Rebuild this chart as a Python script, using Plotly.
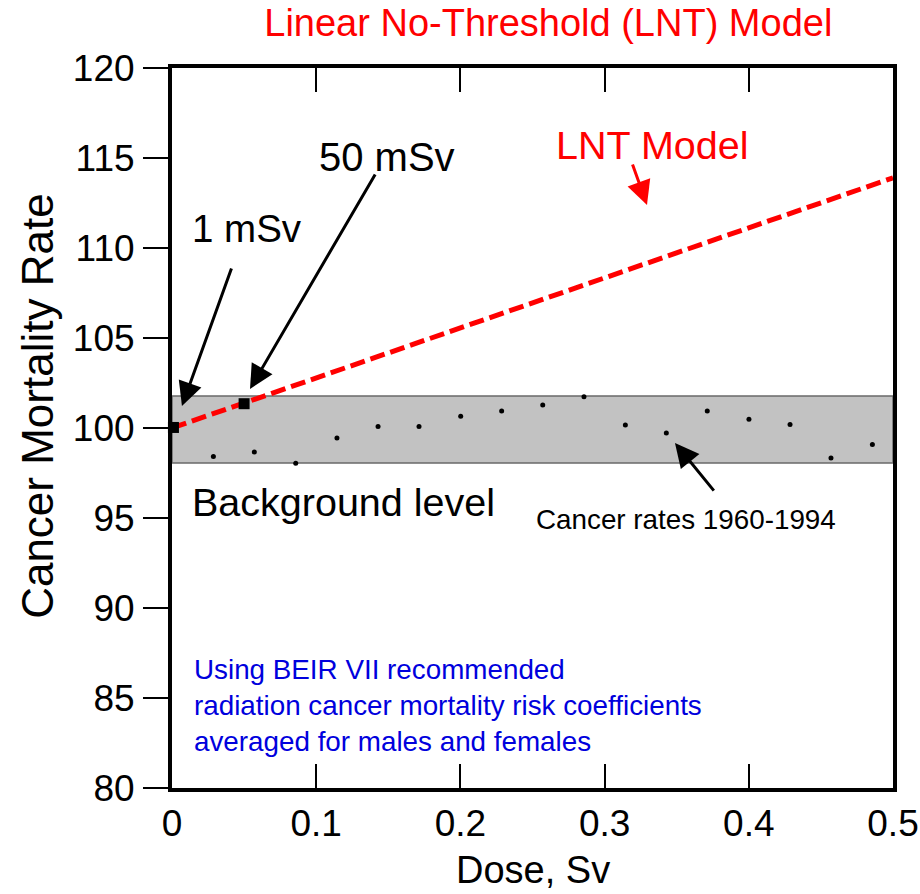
import plotly.graph_objects as go

# LNT model line (dose in Sv, relative cancer mortality rate)
lnt_dose = [0.0, 0.5]
lnt_rate = [100.0, 113.9]

# Highlighted doses on the LNT line
marked_dose = [0.001, 0.05]
marked_rate = [100.03, 101.35]

# Observed cancer rates 1960-1994, spread across the dose axis
obs_dose = [0.0287, 0.0571, 0.0858, 0.1144, 0.1429, 0.1713, 0.2002, 0.2286, 0.2571,
            0.2857, 0.3144, 0.3428, 0.3712, 0.4001, 0.4286, 0.4570, 0.4857]
obs_rate = [98.41, 98.67, 98.04, 99.44, 100.09, 100.09, 100.65, 100.94, 101.28,
            101.74, 100.17, 99.72, 100.94, 100.48, 100.20, 98.33, 99.09]

# Background variation band
band_low, band_high = 98.06, 101.78

x_ticks = [0, 0.1, 0.2, 0.3, 0.4, 0.5]
x_tick_text = ["0", "0.1", "0.2", "0.3", "0.4", "0.5"]
y_ticks = [80, 85, 90, 95, 100, 105, 110, 115, 120]

FONT = "Liberation Sans, Arial, sans-serif"
RED = "#ff0000"
BLUE = "#0000dd"

fig = go.Figure()

fig.add_shape(type="rect", xref="x", yref="y", x0=0, x1=0.5, y0=band_low, y1=band_high,
              fillcolor="#c2c2c2", line=dict(color="#6a6a6a", width=1.5), layer="below")

fig.add_trace(go.Scatter(x=obs_dose, y=obs_rate, mode="markers",
                         marker=dict(color="black", size=5), showlegend=False))

fig.add_trace(go.Scatter(x=lnt_dose, y=lnt_rate, mode="lines",
                         line=dict(color=RED, width=5, dash="15px,6px"),
                         showlegend=False, cliponaxis=False))

fig.add_trace(go.Scatter(x=marked_dose, y=marked_rate, mode="markers",
                         marker=dict(color="black", size=11, symbol="square"),
                         showlegend=False, cliponaxis=False))

def arrow(x, y, ax, ay, color="black"):
    fig.add_annotation(x=x, y=y, ax=ax, ay=ay, xref="x", yref="y", axref="x", ayref="y",
                       text="", showarrow=True, arrowhead=2, arrowsize=1.6,
                       arrowwidth=3, arrowcolor=color)

arrow(0.0069, 101.22, 0.0416, 108.94)
arrow(0.0541, 102.17, 0.1415, 114.17)
arrow(0.3294, 112.39, 0.3190, 114.72, RED)
arrow(0.3488, 99.17, 0.3766, 96.44)

def label(x, y, text, size, color="black", xanchor="center", align="center"):
    fig.add_annotation(x=x, y=y, xref="x", yref="y", text=text, showarrow=False,
                       xanchor=xanchor, yanchor="middle", align=align,
                       font=dict(family=FONT, size=size, color=color))

label(0.0520, 111.06, "1 mSv", 38.5)
label(0.1494, 115.06, "50 mSv", 40)
label(0.3329, 115.72, "LNT Model", 39.5, RED)
label(0.1186, 95.89, "Background level", 39.5)
label(0.3565, 94.94, "Cancer rates 1960-1994", 27.8)
label(0.0139, 84.61, "Using BEIR VII recommended<br>radiation cancer mortality risk coefficients"
      "<br>averaged for males and females", 27.8, BLUE, xanchor="left", align="left")

# Axis titles
fig.add_annotation(x=0.5, y=-0.146, xref="paper", yref="paper", text="Dose, Sv",
                   showarrow=False, yanchor="bottom",
                   font=dict(family=FONT, size=38, color="black"))
fig.add_annotation(x=-0.186, y=0.5306, xref="paper", yref="paper", text="Cancer Mortality Rate",
                   showarrow=False, textangle=-90, xanchor="center", yanchor="middle",
                   font=dict(family=FONT, size=44, color="black"))

fig.update_layout(
    width=920, height=894,
    margin=dict(l=172, r=27, t=68, b=106),
    paper_bgcolor="white", plot_bgcolor="white",
    font=dict(family=FONT, color="black"),
    title=dict(text="Linear No-Threshold (LNT) Model", x=0.596, xanchor="center",
               y=0.975, yanchor="middle", font=dict(family=FONT, size=38, color=RED)),
    xaxis=dict(range=[0, 0.5], tickvals=x_ticks, ticktext=x_tick_text, automargin=False,
               ticks="inside", ticklen=24, tickwidth=2, tickcolor="black",
               showline=True, linewidth=4, linecolor="black", mirror="ticks",
               showgrid=False, zeroline=False, tickfont=dict(size=37, family=FONT),
               ticklabelstandoff=0),
    yaxis=dict(range=[80, 120], tickvals=y_ticks, automargin=False,
               ticks="outside", ticklen=25, tickwidth=2, tickcolor="black",
               showline=True, linewidth=4, linecolor="black", mirror=True,
               showgrid=False, zeroline=False, tickfont=dict(size=37, family=FONT),
               ticklabelstandoff=1),
)

fig.write_html("out.html")
